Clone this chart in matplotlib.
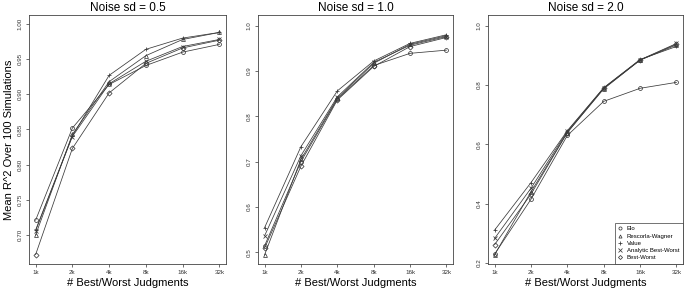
import matplotlib
matplotlib.use("Agg")
import matplotlib.pyplot as plt

plt.rcParams['font.family'] = ['Liberation Sans', 'DejaVu Sans']

x_labels = ["1k", "2k", "4k", "8k", "16k", "32k"]
series_names = ["Elo", "Rescorla-Wagner", "Value", "Analytic Best-Worst", "Best-Worst"]
markers = ["o", "^", "+", "x", "D"]

titles = ["Noise sd = 0.5", "Noise sd = 1.0", "Noise sd = 2.0"]

# panel 1 (noise sd 0.5)
elo_05 = [0.721, 0.852, 0.914, 0.941, 0.960, 0.971]
rw_05 = [0.700, 0.843, 0.918, 0.955, 0.978, 0.988]
val_05 = [0.707, 0.841, 0.927, 0.964, 0.980, 0.988]
abw_05 = [0.706, 0.840, 0.915, 0.947, 0.968, 0.978]
bw_05 = [0.672, 0.823, 0.902, 0.944, 0.966, 0.977]

# panel 2 (noise sd 1.0)
elo_10 = [0.514, 0.700, 0.838, 0.912, 0.939, 0.946]
rw_10 = [0.494, 0.705, 0.840, 0.917, 0.959, 0.978]
val_10 = [0.554, 0.733, 0.856, 0.922, 0.961, 0.980]
abw_10 = [0.536, 0.713, 0.843, 0.919, 0.957, 0.976]
bw_10 = [0.509, 0.690, 0.836, 0.910, 0.954, 0.974]

# panel 3 (noise sd 2.0)
elo_20 = [0.230, 0.415, 0.630, 0.745, 0.789, 0.809]
rw_20 = [0.228, 0.440, 0.640, 0.787, 0.884, 0.935]
val_20 = [0.311, 0.471, 0.646, 0.791, 0.886, 0.930]
abw_20 = [0.283, 0.452, 0.644, 0.790, 0.885, 0.940]
bw_20 = [0.262, 0.432, 0.640, 0.789, 0.884, 0.938]

panels = [
    [elo_05, rw_05, val_05, abw_05, bw_05],
    [elo_10, rw_10, val_10, abw_10, bw_10],
    [elo_20, rw_20, val_20, abw_20, bw_20],
]
yticks = [
    [0.70, 0.75, 0.80, 0.85, 0.90, 0.95, 1.00],
    [0.5, 0.6, 0.7, 0.8, 0.9, 1.0],
    [0.2, 0.4, 0.6, 0.8, 1.0],
]
ytick_fmt = ["{:.2f}", "{:.1f}", "{:.1f}"]
ylims = [(0.6587, 1.0128), (0.474, 1.0236), (0.197, 1.036)]

W, H = 685, 296
fig = plt.figure(figsize=(W / 100, H / 100), dpi=100)
boxes = [(29, 226), (258, 453), (488, 683)]
top, bottom = 15, 264

line_color = "#3a3a3a"
for i, (x0, x1) in enumerate(boxes):
    ax = fig.add_axes([x0 / W, 1 - bottom / H, (x1 - x0) / W, (bottom - top) / H])
    xs = list(range(len(x_labels)))
    for vals, m, name in zip(panels[i], markers, series_names):
        ms = 2.8 if m in ("o", "^") else (2.6 if m == "D" else 3.2)
        ax.plot(xs, vals, color=line_color, lw=0.55, marker=m, ms=ms,
                mfc="none", mec=line_color, mew=0.55, label=name)
    ax.set_xlim(-0.18, 5.18)
    ax.set_ylim(*ylims[i])
    ax.set_xticks(xs)
    ax.set_xticklabels(x_labels, fontsize=4.5)
    ax.set_yticks(yticks[i])
    ax.set_yticklabels([ytick_fmt[i].format(v) for v in yticks[i]], fontsize=4.5,
                       rotation=90, va="center")
    ax.tick_params(direction="out", length=2.5, width=0.5, pad=2, colors="#333333")
    for s in ax.spines.values():
        s.set_linewidth(0.6)
        s.set_color("#444444")
    ax.set_title(titles[i], fontsize=8.5, pad=3)
    ax.set_xlabel("# Best/Worst Judgments", fontsize=8, labelpad=2)
    if i == 0:
        ax.set_ylabel("Mean R^2 Over 100 Simulations", fontsize=8, labelpad=3)
    if i == 2:
        leg = ax.legend(loc="lower right", fontsize=4.3, frameon=True, fancybox=False,
                        edgecolor="#333333", borderaxespad=0, handlelength=0.6,
                        handletextpad=0.8, labelspacing=0.35, borderpad=0.6,
                        markerscale=0.8)
        leg.get_frame().set_linewidth(0.6)
        for h in leg.get_lines():
            h.set_linestyle("none")

fig.savefig("out.png", dpi=100)
